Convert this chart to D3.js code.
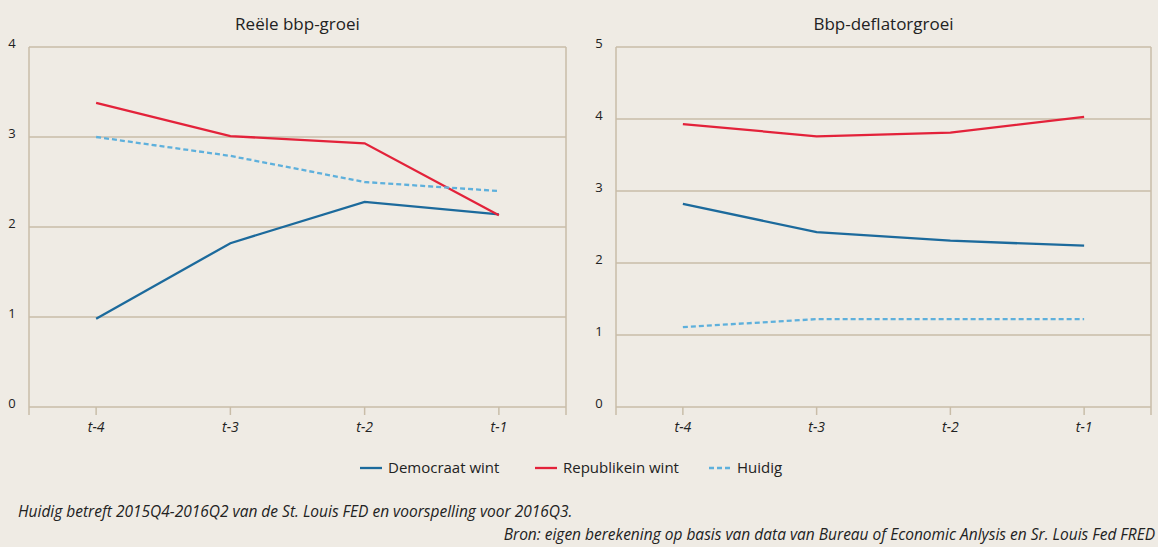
<!DOCTYPE html>
<html lang="nl">
<head>
<meta charset="UTF-8">
<title>Bbp-groei</title>
<script src="https://d3js.org/d3.v7.min.js"></script>
<style>
    body { margin: 0; background: #efebe4; }
    svg { display: block; }
    text { font-family: "Open Sans", sans-serif; fill: #222; }
</style>
</head>
<body>
<svg width="1158" height="547"></svg>
<script>
    // Data
    var periods = ["t-4", "t-3", "t-2", "t-1"];

    var gdpDemocrat   = [0.98, 1.82, 2.28, 2.14];
    var gdpRepublican = [3.38, 3.01, 2.93, 2.13];
    var gdpCurrent    = [3.00, 2.79, 2.50, 2.40];

    var deflDemocrat   = [2.82, 2.43, 2.31, 2.24];
    var deflRepublican = [3.93, 3.76, 3.81, 4.03];
    var deflCurrent    = [1.11, 1.22, 1.22, 1.22];

    var gdpTicks = [0, 1, 2, 3, 4];
    var deflTicks = [0, 1, 2, 3, 4, 5];

    var seriesNames = ["Democraat wint", "Republikein wint", "Huidig"];
    var seriesColors = ["#1c6a9c", "#e3223a", "#5eb0dc"];
    var seriesDash = [null, null, "5,3"];

    var svg = d3.select("svg");
    var gridColor = "#c9bda8";

    function drawPanel(opt) {
        var x = d3.scalePoint()
            .domain(periods)
            .range([opt.left, opt.right])
            .padding(0.5);
        var y = d3.scaleLinear()
            .domain([0, d3.max(opt.ticks)])
            .range([407, 47]);

        var g = svg.append("g");

        // gridlines
        g.selectAll(".grid")
            .data(opt.ticks)
            .enter().append("line")
            .attr("x1", opt.left).attr("x2", opt.right)
            .attr("y1", function(d) { return y(d); })
            .attr("y2", function(d) { return y(d); })
            .attr("stroke", gridColor)
            .attr("stroke-width", 1.5);

        // frame sides (extend down as edge ticks)
        [opt.left, opt.right].forEach(function(xx) {
            g.append("line")
                .attr("x1", xx).attr("x2", xx)
                .attr("y1", 47).attr("y2", 415)
                .attr("stroke", gridColor)
                .attr("stroke-width", 1.5);
        });

        // x axis ticks
        g.selectAll(".xtick")
            .data(periods)
            .enter().append("line")
            .attr("x1", function(d) { return x(d); })
            .attr("x2", function(d) { return x(d); })
            .attr("y1", 407).attr("y2", 415)
            .attr("stroke", gridColor)
            .attr("stroke-width", 1.5);

        g.selectAll(".xlabel")
            .data(periods)
            .enter().append("text")
            .attr("x", function(d) { return x(d); })
            .attr("y", 432)
            .attr("text-anchor", "middle")
            .style("font-size", "14px")
            .style("font-style", "italic")
            .text(function(d) { return d; });

        // y labels
        g.selectAll(".ylabel")
            .data(opt.ticks)
            .enter().append("text")
            .attr("x", opt.left - 17)
            .attr("y", function(d) { return y(d) + 1; })
            .attr("text-anchor", "middle")
            .style("font-size", "13px")
            .text(function(d) { return d; });

        // lines
        var line = d3.line()
            .x(function(d, i) { return x(periods[i]); })
            .y(function(d) { return y(d); });

        opt.series.forEach(function(values, k) {
            g.append("path")
                .datum(values)
                .attr("d", line)
                .attr("fill", "none")
                .attr("stroke", seriesColors[k])
                .attr("stroke-width", 2.3)
                .attr("stroke-dasharray", seriesDash[k]);
        });

        // title
        g.append("text")
            .attr("x", (opt.left + opt.right) / 2)
            .attr("y", 30)
            .attr("text-anchor", "middle")
            .style("font-size", "17px")
            .text(opt.title);
    }

    drawPanel({
        left: 29, right: 566,
        ticks: gdpTicks,
        title: "Reële bbp-groei",
        series: [gdpDemocrat, gdpRepublican, gdpCurrent]
    });

    drawPanel({
        left: 616, right: 1151,
        ticks: deflTicks,
        title: "Bbp-deflatorgroei",
        series: [deflDemocrat, deflRepublican, deflCurrent]
    });

    // Legend
    var legendX = [360, 535, 709];
    var legend = svg.selectAll(".legend")
        .data(seriesNames)
        .enter().append("g")
        .attr("transform", function(d, i) { return "translate(" + legendX[i] + ",468)"; });

    legend.append("line")
        .attr("x1", 0).attr("x2", 22)
        .attr("stroke", function(d, i) { return seriesColors[i]; })
        .attr("stroke-width", 2.3)
        .attr("stroke-dasharray", function(d, i) { return seriesDash[i]; });

    legend.append("text")
        .attr("x", 28)
        .attr("y", 5)
        .style("font-size", "15px")
        .text(function(d) { return d; });

    // Notes
    svg.append("text")
        .attr("x", 18)
        .attr("y", 517)
        .style("font-size", "15.5px")
        .style("font-style", "italic")
        .text("Huidig betreft 2015Q4-2016Q2 van de St. Louis FED en voorspelling voor 2016Q3.");

    svg.append("text")
        .attr("x", 1155)
        .attr("y", 540)
        .attr("text-anchor", "end")
        .style("font-size", "15.5px")
        .style("font-style", "italic")
        .text("Bron: eigen berekening op basis van data van Bureau of Economic Anlysis en Sr. Louis Fed FRED");
</script>
</body>
</html>
